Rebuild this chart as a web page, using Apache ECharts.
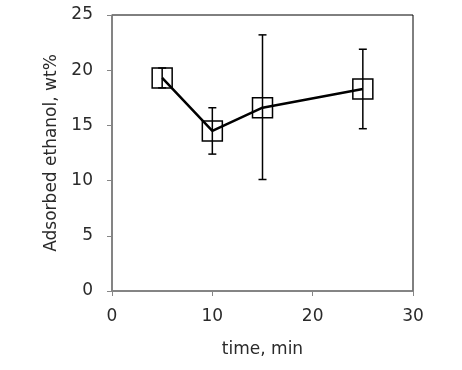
<!DOCTYPE html>
<html>
<head>
<meta charset="utf-8">
<script src="https://cdn.jsdelivr.net/npm/echarts@6/dist/echarts.min.js"></script>
<style>
  html, body { margin: 0; padding: 0; background: #fff; }
  #main { width: 462px; height: 370px; }
</style>
</head>
<body>
<div id="main"></div>
<script>
// data
var times = [5, 10, 15, 25];
var ethanol = [19.3, 14.5, 16.6, 18.3];
var errLow = [18.4, 12.4, 10.1, 14.7];
var errHigh = [20.2, 16.6, 23.2, 21.9];
var xTicks = [0, 10, 20, 30];
var yTicks = [0, 5, 10, 15, 20, 25];

var font = "DejaVu Sans";
var chart = echarts.init(document.getElementById("main"));

var lineData = times.map(function (t, i) { return [t, ethanol[i]]; });
var errData = times.map(function (t, i) { return [t, errLow[i], errHigh[i]]; });

var option = {
  animation: false,
  grid: {
    left: 112, right: 49, top: 15, bottom: 79,
    show: true, borderColor: "#000", borderWidth: 1
  },
  xAxis: {
    type: "value",
    min: xTicks[0], max: xTicks[xTicks.length - 1], interval: 10,
    name: "time, min",
    nameLocation: "middle",
    nameGap: 50,
    nameTextStyle: { fontFamily: font, fontSize: 17, color: "#2a2a2a" },
    axisLine: { lineStyle: { color: "#868686", width: 1.5 } },
    axisTick: { show: true, inside: false, length: 5, lineStyle: { color: "#868686" } },
    axisLabel: { margin: 17, fontFamily: font, fontSize: 17, color: "#2a2a2a" },
    splitLine: { show: false }
  },
  yAxis: {
    type: "value",
    min: yTicks[0], max: yTicks[yTicks.length - 1], interval: 5,
    name: "Adsorbed ethanol, wt%",
    nameLocation: "middle",
    nameGap: 51,
    nameTextStyle: { fontFamily: font, fontSize: 17, color: "#2a2a2a" },
    axisLine: { lineStyle: { color: "#868686", width: 1.5 } },
    axisTick: { show: true, inside: false, length: 5, lineStyle: { color: "#868686" } },
    axisLabel: { margin: 19, fontFamily: font, fontSize: 17, color: "#2a2a2a" },
    splitLine: { show: false }
  },
  series: [
    {
      type: "custom",
      z: 1,
      data: errData,
      renderItem: function (params, api) {
        var x = api.value(0);
        var lo = api.coord([x, api.value(1)]);
        var hi = api.coord([x, api.value(2)]);
        var w = 4;
        var st = { stroke: "#000", lineWidth: 1.5 };
        return {
          type: "group",
          children: [
            { type: "line", shape: { x1: lo[0], y1: lo[1], x2: hi[0], y2: hi[1] }, style: st },
            { type: "line", shape: { x1: lo[0] - w, y1: lo[1], x2: lo[0] + w, y2: lo[1] }, style: st },
            { type: "line", shape: { x1: hi[0] - w, y1: hi[1], x2: hi[0] + w, y2: hi[1] }, style: st }
          ]
        };
      }
    },
    {
      type: "line",
      z: 2,
      data: lineData,
      symbol: "rect",
      symbolSize: 20,
      lineStyle: { color: "#000", width: 2.5 },
      itemStyle: { color: "rgba(0,0,0,0)", borderColor: "#000", borderWidth: 1.5 }
    }
  ]
};

chart.setOption(option);
</script>
</body>
</html>
